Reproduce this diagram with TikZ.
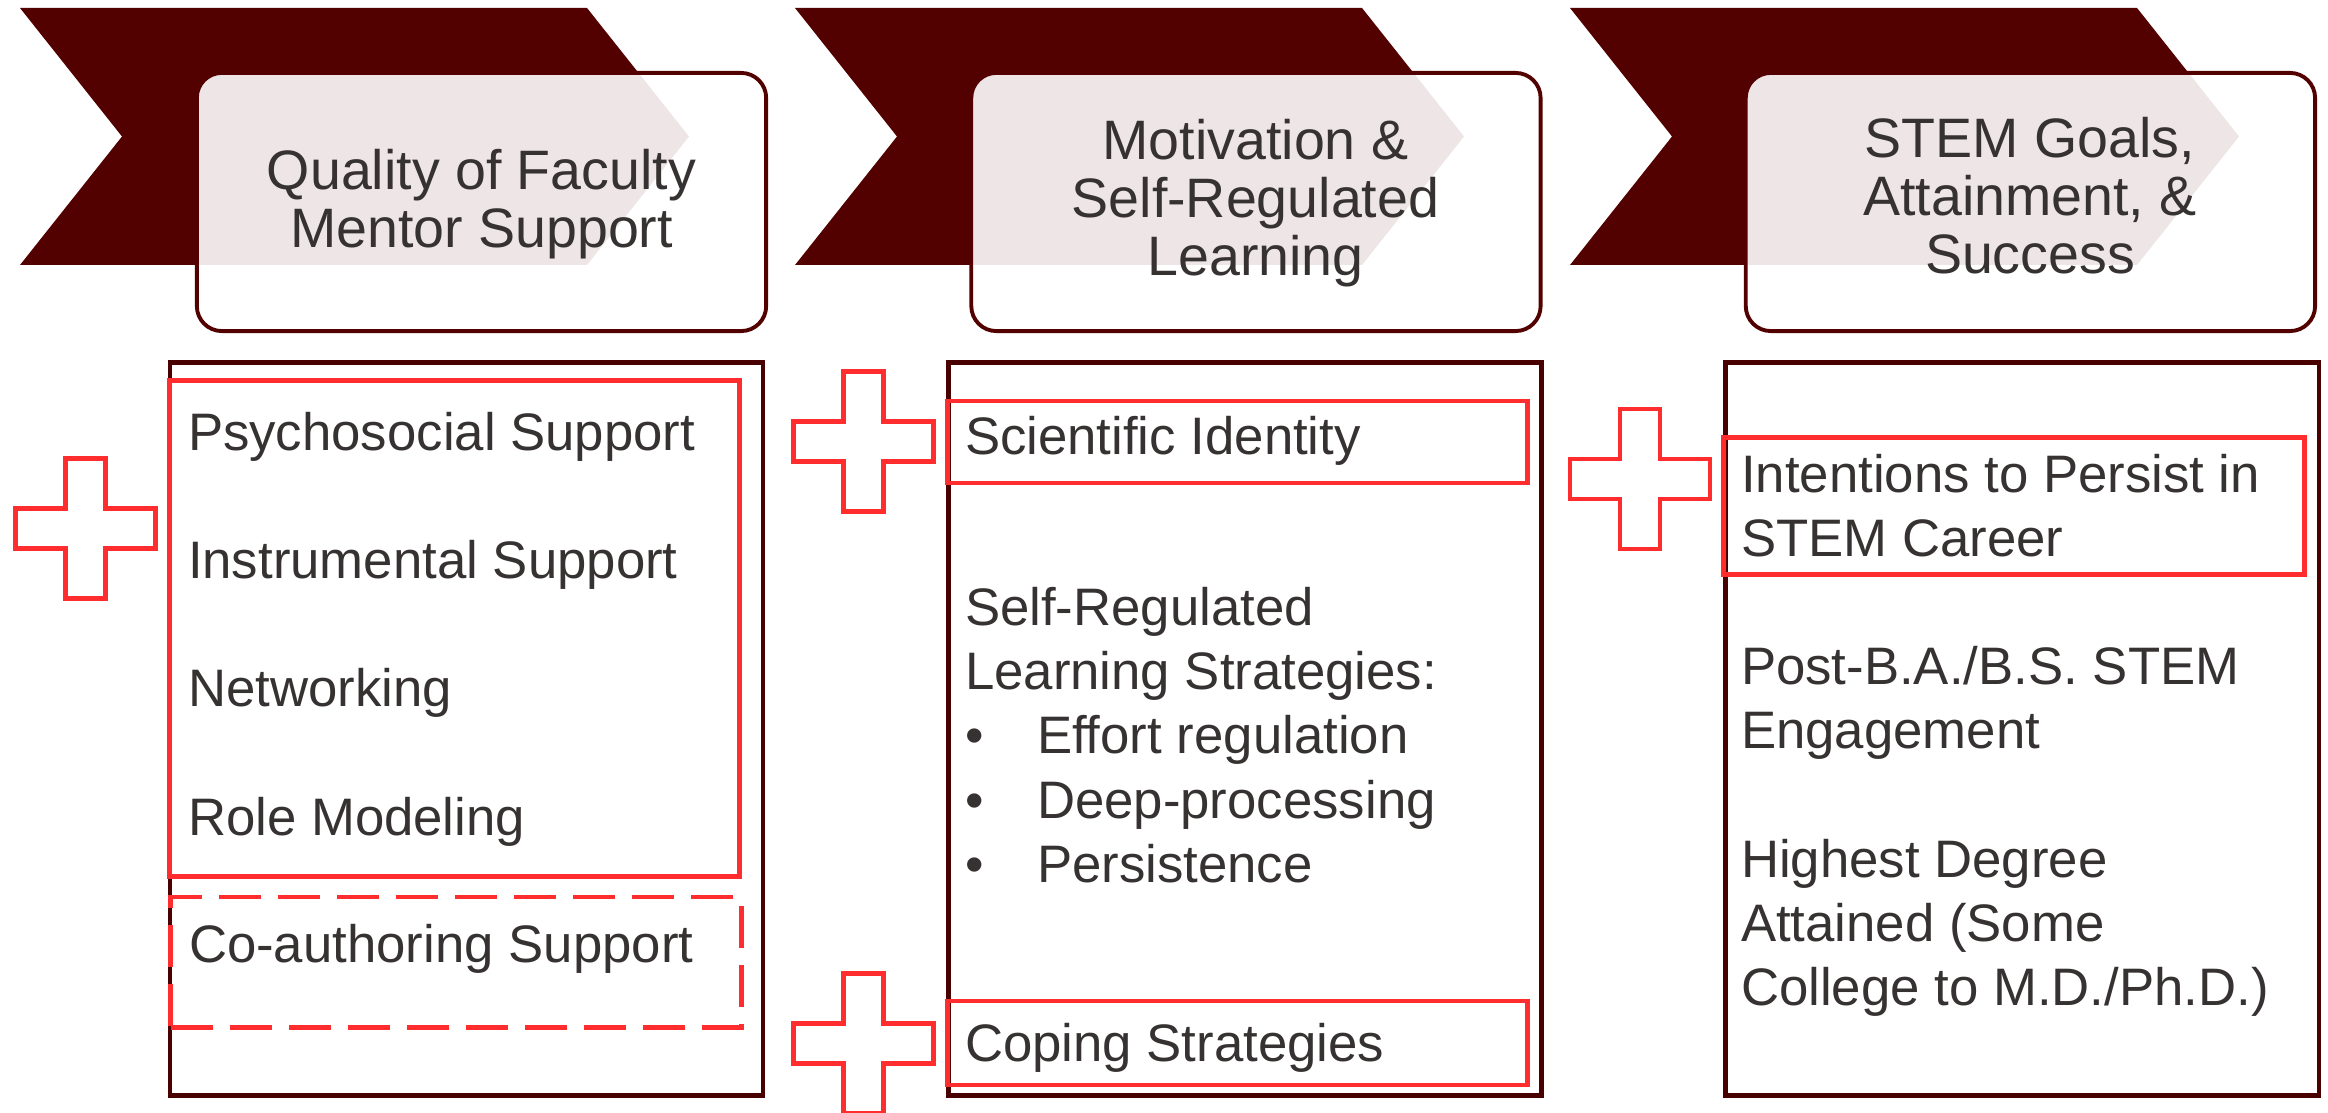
\documentclass[tikz,border=0pt]{standalone}
\usepackage{fontspec}
\setmainfont{Liberation Sans}
\usetikzlibrary{positioning}
\definecolor{darkmaroon}{RGB}{83,0,0}
\definecolor{boxmaroon}{RGB}{72,0,0}
\definecolor{plusred}{RGB}{255,45,45}
\definecolor{textgray}{RGB}{55,50,50}

\begin{document}
\begin{tikzpicture}[
		x=0.01cm, y=-0.01cm,
		every node/.style={inner sep=0pt, outer sep=0pt},
		headbox/.style={draw=darkmaroon, line width=1.1pt, rounded corners=0.25cm, fill=white, fill opacity=0.9, minimum width=5.69cm, minimum height=2.58cm},
		headtext/.style={anchor=base, align=center, text=textgray, font=\fontsize{15.8pt}{16.5pt}\selectfont},
		column/.style={draw=boxmaroon, line width=1.3pt, minimum width=5.93cm, minimum height=7.32cm},
		redbox/.style={draw=plusred, line width=1.4pt},
		bodytext/.style={anchor=base west, align=left, text=textgray, font=\fontsize{15pt}{18.2pt}\selectfont},
		plusmark/.style={draw=plusred, line width=1.4pt}
		]
		\useasboundingbox (0,0) rectangle (2328,1113);
		% Chevrons
		\foreach \dx in {0,775,1550}
			\fill[darkmaroon, shift={(\dx,0)}] (20,8) -- (587,8) -- (689,136.5) -- (587,265) -- (20,265) -- (122,136.5) -- cycle;
		
		% Stage headers (base = last line)
		\node[headbox] at (481.5,202) (hb1) {};
		\node[headbox, right=2.05cm of hb1] (hb2) {};
		\node[headbox, right=2.05cm of hb2] (hb3) {};
		\node[headtext] at (481.5,248) (t1) {Quality of Faculty\\Mentor Support};
		\node[headtext] at (1255.5,276) (t2) {Motivation \&\\Self-Regulated\\Learning};
		\node[headtext] at (2030,274) (t3) {STEM Goals,\\Attainment, \&\\Success};
		
		% Columns
		\node[column] at (466.5,729) (col1) {};
		\node[column, right=1.85cm of col1] (col2) {};
		\node[column, right=1.84cm of col2] (col3) {};
		
		\node[redbox, minimum width=5.69cm, minimum height=4.95cm] at (454.5,628.5) (support) {};
		\node[redbox, dashed, dash pattern=on 4.2mm off 1.7mm, minimum width=5.70cm, minimum height=1.30cm] at (456,962) (coauth) {};
		\node[redbox, minimum width=5.79cm, minimum height=0.82cm] at (1237.5,442) (ident) {};
		\node[redbox, minimum width=5.79cm, minimum height=0.84cm] at (1237.5,1043) (coping) {};
		\node[redbox, minimum width=5.80cm, minimum height=1.36cm] at (2014,506) (persist) {};
		
		% Column texts (base = last line)
		\node[bodytext] at (188,835) (l1) {Psychosocial Support\\[18.2pt]Instrumental Support\\[18.2pt]Networking\\[18.2pt]Role Modeling};
		\node[bodytext] at (189,962) (l1d) {Co-authoring Support};
		\node[bodytext] at (965,455) (l2a) {Scientific Identity};
		\node[bodytext] at (965,882) (l2b) {Self-Regulated\\Learning Strategies:\\\makebox[0.72cm][l]{\textbullet}Effort regulation\\\makebox[0.72cm][l]{\textbullet}Deep-processing\\\makebox[0.72cm][l]{\textbullet}Persistence};
		\node[bodytext] at (965,1061) (l2c) {Coping Strategies};
		\node[bodytext] at (1741,1005) (l3) {Intentions to Persist in\\STEM Career\\[18.2pt]Post-B.A./B.S. STEM\\Engagement\\[18.2pt]Highest Degree\\Attained (Some\\College to M.D./Ph.D.)};
		
		% Plus marks
		\foreach \px/\py in {85.5/528.5, 863.5/441.5, 863.5/1043.5, 1640/479}
			\draw[plusmark, shift={(\px,\py)}] (-70,-20) -- (-20,-20) -- (-20,-70) -- (20,-70) -- (20,-20) -- (70,-20) -- (70,20) -- (20,20) -- (20,70) -- (-20,70) -- (-20,20) -- (-70,20) -- cycle;
		
	\end{tikzpicture}
\end{document}
